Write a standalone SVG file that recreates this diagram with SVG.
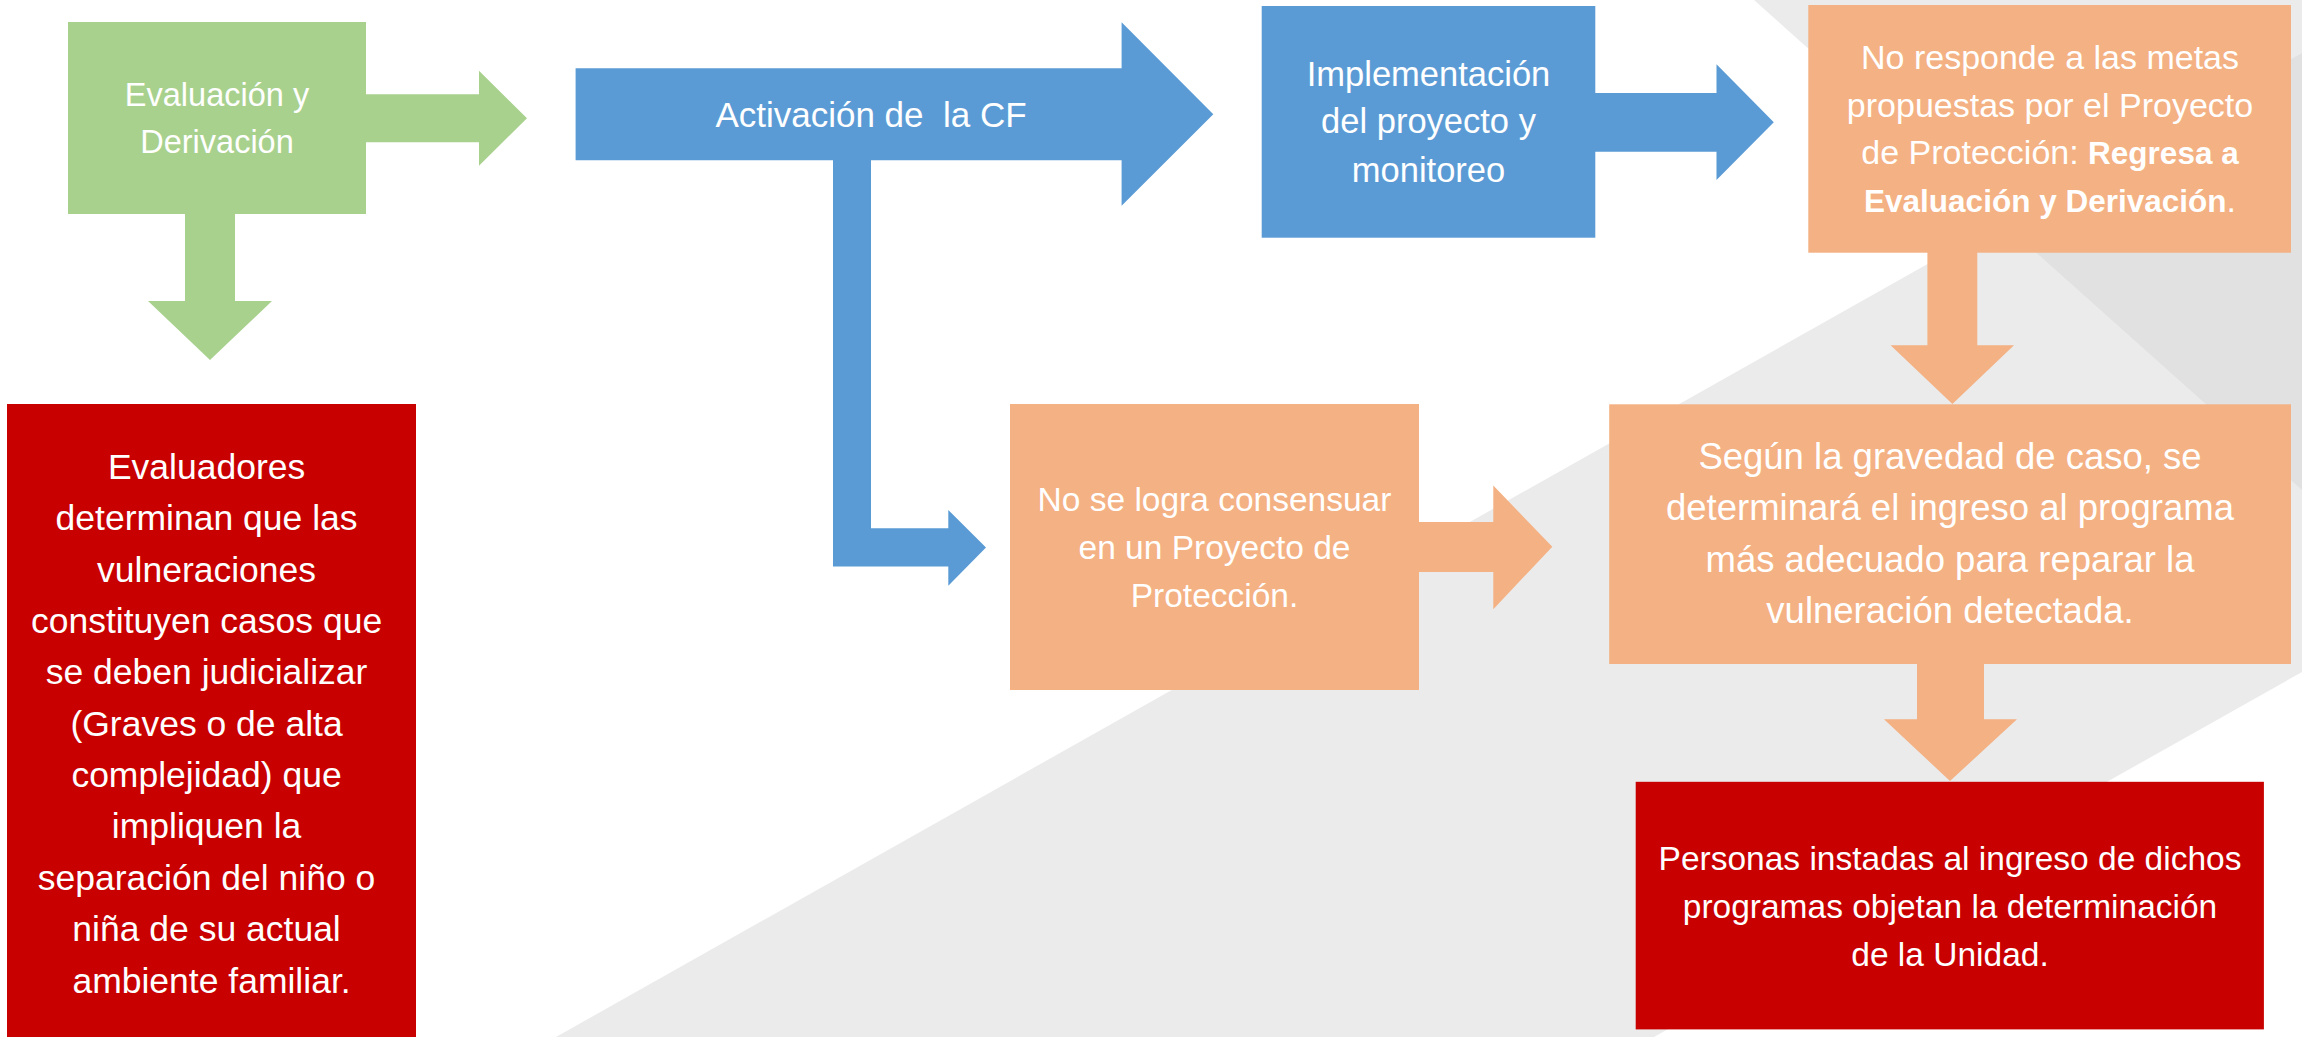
<svg xmlns="http://www.w3.org/2000/svg" width="2302" height="1037" viewBox="0 0 2302 1037">
<style>
text{font-family:"Liberation Sans",Arial,sans-serif;fill:#ffffff;text-anchor:middle}
.g{fill:#a9d18e}.b{fill:#5b9bd5}.o{fill:#f4b183}.r{fill:#c90000}
.bg1{fill:#ebebeb}.bg2{fill:#e1e1e1}
.bd{font-weight:bold;font-size:31.5px}
</style>
<rect width="2302" height="1037" fill="#ffffff"/>
<g id="background">
<polygon class="bg1" points="556,1037 2302,53 2302,672 1654,1037"/>
<polygon class="bg1" points="1754,0 2302,0 2302,490"/>
<polygon class="bg2" points="2002,222 2302,53 2302,490"/>
</g>
<g id="connectors">
<polygon class="g" points="366,94.3 479,94.3 479,70.7 527,118.3 479,165.7 479,142.3 366,142.3"/>
<polygon class="g" points="185,214 235,214 235,301 272,301 210,360 148,301 185,301"/>
<polygon class="b" points="833,160 871,160 871,528.3 948.3,528.3 948.3,510 986,547.6 948.3,585.7 948.3,566.4 833,566.4"/>
<polygon class="b" points="1595,93 1716.5,93 1716.5,64.3 1773.8,122.3 1716.5,180 1716.5,151.7 1595,151.7"/>
<polygon class="o" points="1927.4,252 1977.3,252 1977.3,345.3 2014,345.3 1952.4,404 1890.6,345.3 1927.4,345.3"/>
<polygon class="o" points="1419,522 1493.3,522 1493.3,485.6 1552.3,546.7 1493.3,609.2 1493.3,571.9 1419,571.9"/>
<polygon class="o" points="1917,664 1984,664 1984,719.3 2017,719.3 1950,781 1884,719.3 1917,719.3"/>
</g>
<g id="evaluacion">
<rect class="g" x="68" y="22" width="298" height="192"/>
<text font-size="32.5"><tspan x="217" y="106">Evaluación y</tspan><tspan x="217" y="153.3">Derivación</tspan></text>
</g>
<g id="activacion">
<polygon class="b" points="575.6,68.3 1121.6,68.3 1121.6,22.3 1213.3,114.3 1121.6,205.7 1121.6,160.3 575.6,160.3"/>
<text font-size="35" x="871" y="126.7" xml:space="preserve">Activación de  la CF</text>
</g>
<g id="implementacion">
<rect class="b" x="1261.7" y="6" width="333.6" height="231.7"/>
<text font-size="34.5"><tspan x="1428.5" y="86">Implementación</tspan><tspan x="1428.5" y="133.3">del proyecto y</tspan><tspan x="1428.5" y="181.7">monitoreo</tspan></text>
</g>
<g id="no-responde">
<rect class="o" x="1808.3" y="5" width="482.7" height="247.7"/>
<text font-size="34" x="2050" y="69">No responde a las metas</text>
<text font-size="34" x="2050" y="116.7">propuestas por el Proyecto</text>
<text font-size="34" x="2050" y="164.3">de Protección: <tspan class="bd">Regresa a</tspan></text>
<text font-size="34" x="2050" y="211.7"><tspan class="bd">Evaluación y Derivación</tspan>.</text>
</g>
<g id="evaluadores">
<rect class="r" x="7" y="404" width="409" height="640"/>
<text font-size="35.5">
<tspan x="211.5" y="478.9">Evaluadores</tspan>
<tspan x="211.5" y="530.2">determinan que las</tspan>
<tspan x="211.5" y="581.6">vulneraciones</tspan>
<tspan x="211.5" y="632.9">constituyen casos que</tspan>
<tspan x="211.5" y="684.3">se deben judicializar</tspan>
<tspan x="211.5" y="735.6">(Graves o de alta</tspan>
<tspan x="211.5" y="787">complejidad) que</tspan>
<tspan x="211.5" y="838.4">impliquen la</tspan>
<tspan x="211.5" y="889.7">separación del niño o</tspan>
<tspan x="211.5" y="941.1">niña de su actual</tspan>
<tspan x="211.5" y="992.5">ambiente familiar.</tspan>
</text>
</g>
<g id="no-se-logra">
<rect class="o" x="1010" y="404" width="409" height="286"/>
<text font-size="33.5"><tspan x="1214.5" y="511">No se logra consensuar</tspan><tspan x="1214.5" y="559.3">en un Proyecto de</tspan><tspan x="1214.5" y="607">Protección.</tspan></text>
</g>
<g id="segun">
<rect class="o" x="1609.2" y="404.3" width="681.8" height="259.7"/>
<text font-size="36.5"><tspan x="1950" y="468.8">Según la gravedad de caso, se</tspan><tspan x="1950" y="520.3">determinará el ingreso al programa</tspan><tspan x="1950" y="571.9">más adecuado para reparar la</tspan><tspan x="1950" y="623">vulneración detectada.</tspan></text>
</g>
<g id="personas">
<rect class="r" x="1635.7" y="781.8" width="628.2" height="247.6"/>
<text font-size="33.5"><tspan x="1950" y="870.2">Personas instadas al ingreso de dichos</tspan><tspan x="1950" y="918.3">programas objetan la determinación</tspan><tspan x="1950" y="965.7">de la Unidad.</tspan></text>
</g>
</svg>
